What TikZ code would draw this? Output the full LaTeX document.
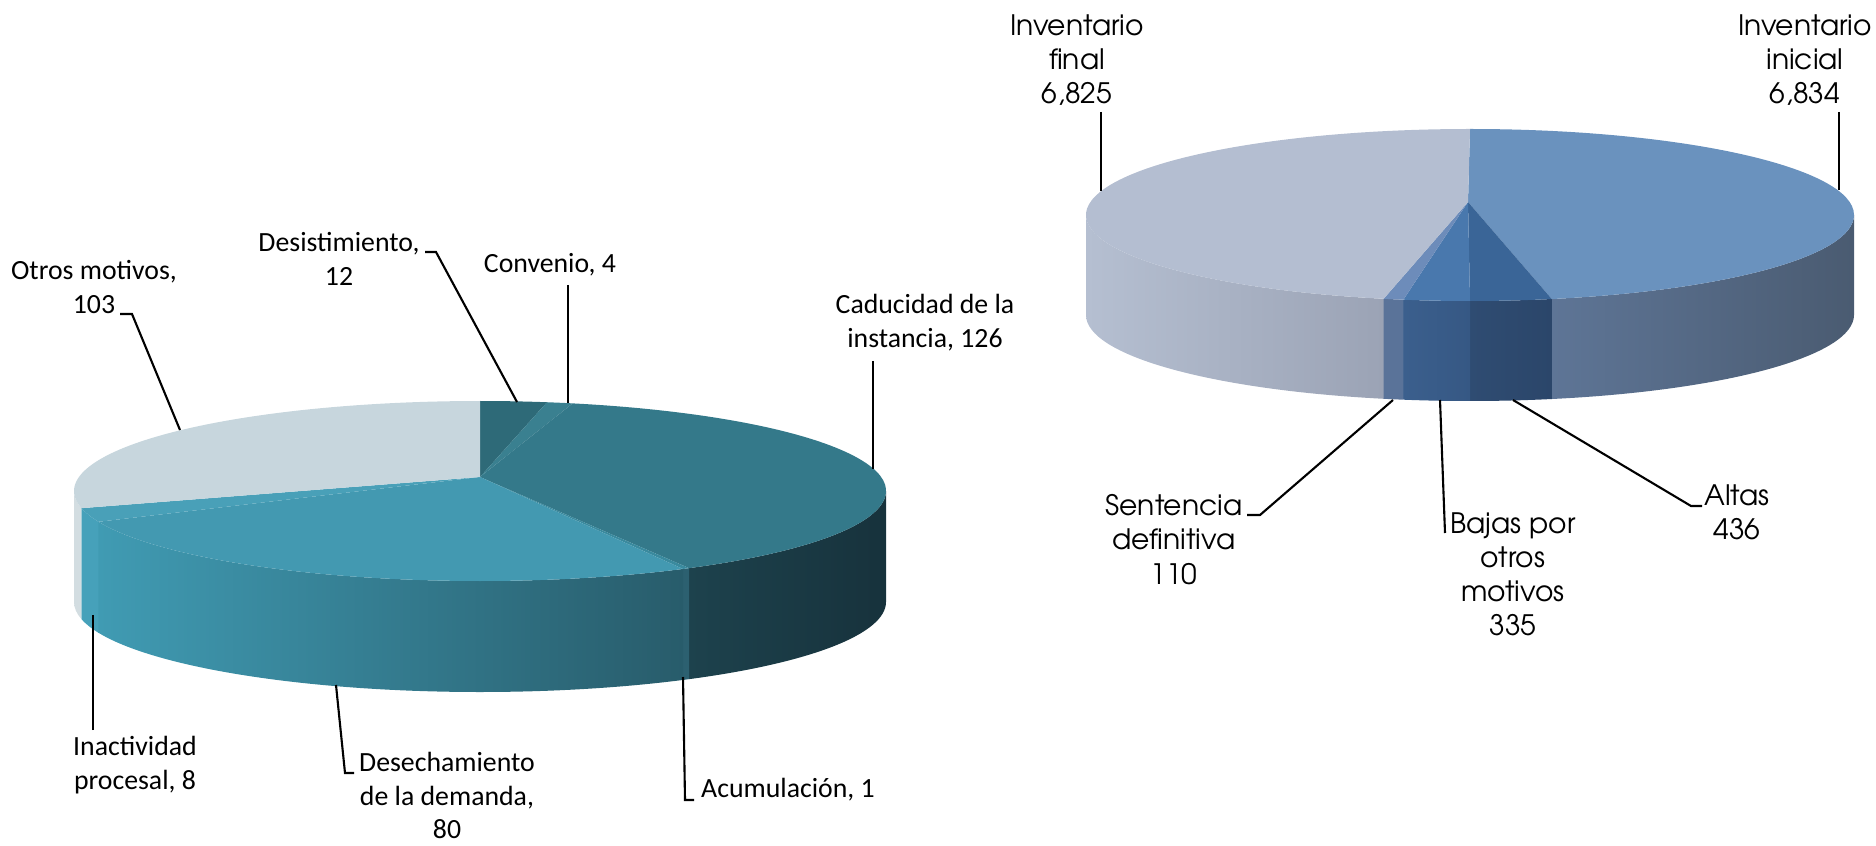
\documentclass[tikz,border=0pt]{standalone}
\usepackage{fontspec}
\setmainfont{Carlito}
\newfontfamily\gothic{TeX Gyre Adventor}
\usetikzlibrary{calc}

% colores
\definecolor{otros}{HTML}{C7D6DD}
\definecolor{desist}{HTML}{2E6A78}
\definecolor{conv}{HTML}{3A8090}
\definecolor{cad}{HTML}{34798A}
\definecolor{acum}{HTML}{3A8A9E}
\definecolor{desech}{HTML}{4399B1}
\definecolor{inact}{HTML}{49A0B8}
\definecolor{final}{HTML}{B4BED1}
\definecolor{inicial}{HTML}{6A92BE}
\definecolor{altas}{HTML}{3A6597}
\definecolor{bajas}{HTML}{4978AD}
\definecolor{sent}{HTML}{6D8CBA}

\tikzset{
    etiqueta/.style={inner sep=0pt, align=center, anchor=north, font=\fontsize{7.9}{9.5}\selectfont},
    etiquetab/.style={inner sep=0pt, align=center, anchor=north, font=\gothic\fontsize{8}{9.7}\selectfont},
    guia/.style={draw=black, line width=0.6pt},
    lado/.style={left color=ladol, middle color=ladom, right color=lador}
}

\begin{document}
\begin{tikzpicture}[x=0.01cm, y=0.01cm]
    \useasboundingbox ( 0, 0 ) rectangle ( 1876, 845 );

    % pastel izquierdo
    \coordinate (c1) at ( 480, 354 );
    \coordinate (a1) at ( 480, 368 );
    \foreach \a/\b/\cl/\cm/\cr in {0/-59/1D424D/1A3A44/17323C, -59/-60/2C6070/2C6070/2C6070,
        -60/-160/409BB3/3889A0/285C6B, -160/-169/46A1BA/46A1BA/46A1BA, -169/-180/D3DDE1/D3DDE1/D3DDE1}
    {
        \definecolor{ladol}{HTML}{\cl}\definecolor{ladom}{HTML}{\cm}\definecolor{lador}{HTML}{\cr}
        \shade[lado] ($(c1)+(\a:406 and 90)$) arc[start angle=\a, end angle=\b, x radius=406, y radius=90]
            -- ++( 0, -111 ) arc[start angle=\b, end angle=\a, x radius=406, y radius=90] -- cycle;
    }
    \foreach \a/\b/\col in {90/80.5/desist, 80.5/76.8/conv, 76.8/-59/cad, -59/-60/acum,
        -60/-160/desech, -160/-169/inact, -169/-270/otros}
        \fill[\col] (a1) -- ($(c1)+(\a:406 and 90)$) arc[start angle=\a, end angle=\b, x radius=406, y radius=90] -- cycle;

    % pastel derecho
    \coordinate (c2) at ( 1470, 630 );
    \coordinate (a2) at ( 1468, 643 );
    \foreach \a/\b/\cl/\cm/\cr in {0/-77.7/5E7596/546784/4A5B71, -77.7/-90/2F4C72/2D4970/2B466A,
        -90/-100/3B5F8D/395C89/365884, -100/-103/5A7399/5A7399/5A7399, -103/-180/B5BFD1/AAB3C5/9BA3B5}
    {
        \definecolor{ladol}{HTML}{\cl}\definecolor{ladom}{HTML}{\cm}\definecolor{lador}{HTML}{\cr}
        \shade[lado] ($(c2)+(\a:384 and 86)$) arc[start angle=\a, end angle=\b, x radius=384, y radius=86]
            -- ++( 0, -100 ) arc[start angle=\b, end angle=\a, x radius=384, y radius=86] -- cycle;
    }
    \foreach \a/\b/\col in {90/-77.7/inicial, -77.7/-90/altas, -90/-100/bajas, -100/-103/sent, -103/-270/final}
        \fill[\col] (a2) -- ($(c2)+(\a:384 and 86)$) arc[start angle=\a, end angle=\b, x radius=384, y radius=86] -- cycle;

    % etiquetas izquierdas
    \node[etiqueta] (otros) at ( 94, 585 ) {Otros motivos,\\103};
    \node[etiqueta] (desist) at ( 339, 613 ) {Desistimiento,\\12};
    \node[etiqueta] (conv) at ( 550, 592 ) {Convenio, 4};
    \node[etiqueta] (cad) at ( 925, 551 ) {Caducidad de la\\instancia, 126};
    \node[etiqueta] (inact) at ( 135, 109 ) {Inactividad\\procesal, 8};
    \node[etiqueta] (desech) at ( 447, 93 ) {Desechamiento\\de la demanda,\\80};
    \node[etiqueta] (acum) at ( 788, 67 ) {Acumulación, 1};

    % etiquetas derechas
    \node[etiquetab] (final) at ( 1077, 831 ) {Inventario\\final\\6,825};
    \node[etiquetab] (inicial) at ( 1805, 831 ) {Inventario\\inicial\\6,834};
    \node[etiquetab] (sent) at ( 1174, 351 ) {Sentencia\\definitiva\\110};
    \node[etiquetab] (bajas) at ( 1513, 333 ) {Bajas por\\otros\\motivos\\335};
    \node[etiquetab] (altas) at ( 1737, 361 ) {Altas\\436};

    % guias
    \coordinate (otros-a) at ( 120, 531 );   \coordinate (otros-b) at ( 180, 415 );
    \coordinate (desist-a) at ( 425, 593 );  \coordinate (desist-b) at ( 517, 443 );
    \coordinate (conv-a) at ( 568, 560 );    \coordinate (conv-b) at ( 568, 442 );
    \coordinate (cad-a) at ( 873, 484 );     \coordinate (cad-b) at ( 873, 376 );
    \coordinate (inact-a) at ( 93, 115 );    \coordinate (inact-b) at ( 93, 230 );
    \coordinate (desech-a) at ( 354, 72 );   \coordinate (desech-b) at ( 336, 160 );
    \coordinate (acum-a) at ( 694, 45 );     \coordinate (acum-b) at ( 683, 168 );
    \coordinate (final-a) at ( 1101, 733 );  \coordinate (final-b) at ( 1101, 654 );
    \coordinate (inicial-a) at ( 1839, 733 ); \coordinate (inicial-b) at ( 1839, 655 );
    \coordinate (sent-a) at ( 1247, 330 );   \coordinate (sent-b) at ( 1393, 445 );
    \coordinate (bajas-a) at ( 1445, 312 );  \coordinate (bajas-b) at ( 1440, 445 );
    \coordinate (altas-a) at ( 1702, 339 );  \coordinate (altas-b) at ( 1513, 445 );

    \draw[guia] (otros-a) -- ++( 12, 0 ) -- (otros-b);
    \draw[guia] (desist-a) -- ++( 11, 0 ) -- (desist-b);
    \draw[guia] (conv-a) -- (conv-b);
    \draw[guia] (cad-a) -- (cad-b);
    \draw[guia] (inact-a) -- (inact-b);
    \draw[guia] (desech-a) -- ++( -9, 0 ) -- (desech-b);
    \draw[guia] (acum-a) -- ++( -9, 0 ) -- (acum-b);
    \draw[guia] (final-a) -- (final-b);
    \draw[guia] (inicial-a) -- (inicial-b);
    \draw[guia] (sent-a) -- ++( 13, 0 ) -- (sent-b);
    \draw[guia] (bajas-a) -- (bajas-b);
    \draw[guia] (altas-a) -- ++( -11, 0 ) -- (altas-b);
\end{tikzpicture}
\end{document}
